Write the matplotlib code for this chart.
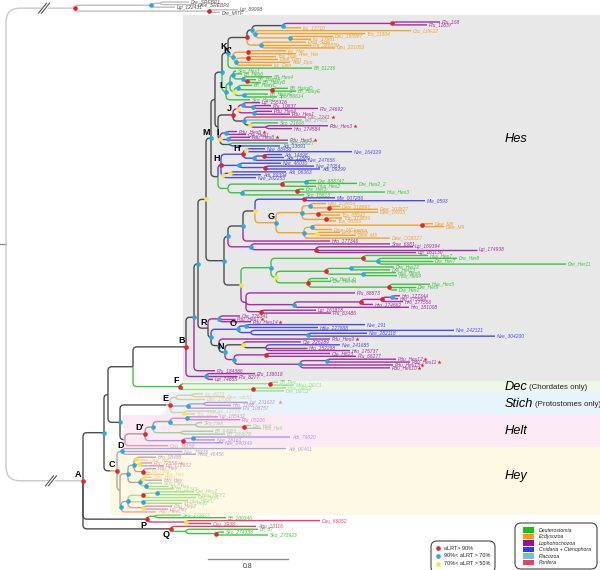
import matplotlib
matplotlib.use("Agg")
import matplotlib.pyplot as plt
from matplotlib.path import Path
from matplotlib.patches import PathPatch, Rectangle, FancyBboxPatch

# ------------------------------------------------------------------ data
# Newick-like clades.  Leaf: Name|Taxon:depth   (depth = distance from root, subst./site)
# Internal: (...)support#Clade:depth   support r: aLRT>90, b: 70-90, y: 50-70, -: none
# a trailing * on a leaf name marks the red star shown after its label
OUTGROUP = ("(((Dre_SREBP1|O:1.83,Dme_SREBP2|O:1.90)-:1.54,Lgi_122431|O:1.69)b:1.45,"
            "(Lgi_89998|O:2.32,Dre_MITF|O:2.14)r:2.03)r:0.69")

K_UP = ("((((Pfu_168|L:4.34,Pfu_11637|L:4.21)r:3.86,Isc_13710|E:2.95)b:2.77,"
        "(Csc_LIN-22|E:4.05,Tca_11304|E:3.59,(Dpu_155987|E:3.27,Isc_17981|E:3.05)b:2.84)b:2.49)b:2.46,"
        "(Dme_Side|E:3.00,Pfa_386830|E:3.05,Dpu_221053|E:3.29)b:2.55)r:2.41")
K_PRIME = ("((Isc_Her|E:2.80,Ame_Her|E:2.90)r:2.42,((Tca_Dpn|E:2.70,Dme_Dpn|E:2.72)r:2.42,"
           "Aae_Dpn|E:2.84,Isc_Dpn|E:2.66)b:2.30)b#K':2.27")
K = f"({K_UP},{K_PRIME},Bfl_01236|D:3.06)b#K:2.22"
L = ("(((Sko_Hes1|D:2.30,Bfl_Hes6|D:2.36,(Bfl_Hes4|D:2.66,(Bfl_HairyA|D:2.50,Bfl_HairyB|D:2.55)r:2.41)b:2.37)b:2.27,"
     "((Bfl_HairyC|D:2.46,(Bfl_HairyD|D:2.82,Bfl_HairyE|D:2.90)r:2.66)b:2.32,"
     "(Bfl_HairyF|D:2.62,Spu_86614|D:2.71)b:2.38)y:2.28)b:2.24,Sko_Hes4|D:2.44)b#L:2.20")
J = ("(((Lgi_155316|L:2.54,(Pfu_10837|L:2.65,Pfu_24692|L:3.12)b:2.47)b:2.37,"
     "(Pdu_Hes4|L:2.66,Pdu_Hes1|L:2.84)b:2.48)y:2.32,"
     "(Osc_2241*|S:3.00,Tad_27431|P:2.96,(Sko_21606|D:2.72,(Pdu_Hes3*|L:3.22,Hro_174584|L:2.86)-:2.60)y:2.44)b:2.38)r#J:2.27")
I = ("((Pdu_Hes6*|L:2.31,Cte_Hes1|L:2.40)b:2.20,(Pdu_Hes8*|L:2.44,Pdu_Hes5*|L:2.82)b:2.22,"
     "(Sko_08627|D:2.82,Adi_13091|C:2.74)-:2.24)y#I:2.14")
MK = f"(({K},{L})b:2.16,({J},{I})-:2.12)-:2.09"
H = ("(((Nve_88450|C:2.59,Nve_164329|C:3.46)y:2.40,((Adi_14698|C:2.76,Adi_12889|C:2.78)r:2.58,Nve_247656|C:3.00)b:2.48)r#H':2.37,"
     "(Nve_46030|C:2.75,(Nve_27054|C:3.08,Adi_09299|C:3.14)r:2.59)b:2.33,"
     "((Adi_06363|C:2.80,Adi_89394|C:2.55)y:2.24,Nve_202253|C:2.50)y:2.17)r#H:2.15")
G2 = ("(((Dre_888747|D:3.10,Dre_Hes2_2|D:3.51)b:3.00,Hsa_Hes2|D:3.10)r:2.76,"
      "((Dre_Her3|D:2.98,Hsa_Hes3|D:3.79)r:2.91,Sko_15813|D:2.98)b:2.36)-:2.22")
M = f"({MK},({H},{G2})-:2.12)b#M:2.05"

MLE = "(Mle_007286|C:3.29,Mle_0593|C:4.19)r:2.98"
G = ("(((Dpu_379859|E:3.20,(Dwe_218897|E:3.34,Dwe_203877|E:3.72)r:3.23)b:3.04,"
     "(Dwe_16915|E:3.72,Tca_05541|E:3.34)r:3.12,(Tca_373839|E:3.36,Tca_00350|E:3.30)r:3.20)b:2.96,"
     "(((Dwe_M8|E:4.27,Dwe_M9|E:4.38)r:4.16,Dme_MGamma|E:3.26)b:3.06,"
     "(Dme_MBeta|E:3.34,Dme_M3|E:3.50)y:3.11,Dwe_CG8327|E:3.84)b:2.98)b#G:2.70")
MIDUP = (f"((({MLE},{G})y:2.49,Hro_177346|L:3.24)b:2.37,"
         "(Sme_6681|L:3.84,(Lgi_169394|L:4.07,Lgi_174938|L:4.71,Lgi_161130|L:4.10)r:3.10)b:2.45)b:2.22")
GR = ("((Hsa_Hes7|D:4.22,(Dre_Her8|D:4.51,Dre_Her7|D:4.27,Dre_Her11|D:5.60)b:3.72)r:3.57,"
      "(((Dre_Her12|D:3.88,Dre_Her13|D:3.84)b:3.45,(Hsa_Hes6|D:3.90,Hsa_Hes4|D:3.91)b:3.57)r:3.20,"
      "(Dre_Her4_b|D:3.22,Dre_Her4a|D:3.25,(Hsa_Hes5|D:4.24,Dre_Her9|D:4.10,Dre_Her1|D:3.91)r:3.83)r:3.02)y:2.70)b:2.65")
HROG = ("((((Hro_177344|L:3.94,Hro_175564|L:3.92)b:3.86,Hro_177556|L:3.97)r:3.76,"
        "Hro_174662|L:3.67)r:3.55,Hro_181008|L:4.03)b:2.88")
MIDLOW = f"({GR},(Pfu_88873|L:3.49,{HROG},(Lgi_161818|L:3.10,Pfu_83486|L:3.25)r:2.55)-:2.40)y:2.35"
MID = f"({MIDUP},{MIDLOW})b:2.18"

R1 = "(Cte_226341|L:2.34,Pdu_Hes7*|L:2.29,Pdu_Hes14*|L:2.45)b:2.13"
O = ("((Nve_191|C:3.59,Hdw_227888|C:3.12)b:2.40,"
     "(Nve_242121|C:4.48,(Nve_282118|C:3.61,Nve_304200|C:4.89)b:3.02)-:2.45)b#O:2.32")
N = ("((Cte_226289|L:2.95,(Nve_241655|C:3.34,Hro_152288|L:3.01,Hro_175737|L:3.44)-:2.60)y:2.37,"
     "((Cte_H823|L:3.24,Pfu_66277|L:3.50)r:2.60,((Pdu_Hes12*|L:3.90,Pdu_Hes11*|L:4.04)b:3.21,"
     "Pdu_Hes13*|L:3.87,Pdu_Hes10*|L:3.84)b:2.94)b:2.28)b#N:2.19")
R = f"({R1},({O},(Pdu_Hes9*|L:3.24,{N})b:2.13)b:2.05)-#R:2.02"
HES = (f"((({M},{MID})y:2.00,{R})b:1.92,Pfu_184386|L:2.09)b:1.88,"
       "(Pfu_138018|L:2.49,Pfu_8277|L:2.31,Lgi_74855|L:2.07)b:2.00)r#B:1.80")
HES = "(" + HES

DEC = "((Bfl_Dec|D:2.72,Mmu_DEC1|D:2.88)r:2.64,(Hsa_DEC2|D:2.80,Dre_DEC2|D:2.78)r:2.47)r#F:1.74"
STICH = ("(((Isc_4373|E:1.97,Dme_stich1|E:2.19)-:1.86,Dpu_17086|E:1.99)-:1.70,"
         "((Lgi_231622*|L:2.42,Hro_1782|L:2.25)-:1.98,Pfu_108757|L:2.35)b:1.82,"
         "(Isc_12779|E:2.10,Tca_12779|E:1.89)y:1.78)r#E:1.64")
HELT = ("(((((Lgi_165432|L:2.12,Pfu_05206|L:2.34)b:1.81,(Sko_Helt|D:1.96,(Dre_Helt|D:2.45,Hsa_Helt|D:2.55)r:2.38)-:1.90)b:1.64,"
        "(Bfl_64982|D:2.07,Bfl_109678|D:2.19)-:1.75)b:1.47,"
        "((Adi_76820|C:2.84,Nve_18161|C:2.09)b:1.87,Nve_240349|C:2.17)r:1.77)r#D':1.39,Ocu_16158|S:1.62)-#D:1.19")
HEY = ("((Adi_00461|C:2.80,Nve_75836|C:1.76,Hma_46456|C:1.90)b:1.16,"
       "((((Hro_08488|L:1.50,Dme_Hey|E:1.42)y:1.30,(Pfu_72858*|L:1.46,Lgi_172602|L:1.58)y:1.33,"
       "(Pdu_Hey|L:1.50,Isc_Hey|E:1.44,Tca_Hey|E:1.58)r:1.37)b:1.28,"
       "((Dpu_Hey|E:1.46,Hro_Hey|L:1.56)y:1.37,(Sko_Hey|D:1.56,Spu_Hey|D:1.62,Bfl_12343|D:1.68)b:1.40)b:1.34)b:1.22,"
       "((((Dre_Hey2|D:1.88,Hsa_HEY1|D:1.94)b:1.51,Dre_HeyL|D:1.90)r:1.37,(Hsa_HEYL|D:1.82,Mmu_Hey2|D:1.76)b:1.37,"
       "(Pdu_Hey2|L:1.66,Lgi_Hey|L:1.62)y:1.37)b:1.22,Aqu_HeyL|S:1.50)b:1.15)-:1.14)r#C:1.11")
P = "((Sko_273877|D:1.75,Bfl_100346|D:2.20)-:1.49,(Osu_66052|S:3.14,Osu_3938|S:2.05)y:1.80)r#P:1.41"
Q = "(Aqu_13116|S:2.50,(Bfl_87|D:2.52,(Sko_274338|D:2.18,Sko_273923|D:2.62)r:2.10)-:1.80)r#Q:1.65"

MAIN = f"((({HES},{DEC})-:1.27,({STICH},{HELT})b:1.14)-:1.02,{HEY})b:0.98"
A = f"({MAIN},{P},{Q})r#A:0.77"
TREE = f"({OUTGROUP},{A})-:0.00"

TAXA = ["D", "E", "L", "C", "P", "S"]
TAXON_NAMES = ["Deuterostomia", "Ecdysozoa", "Lophotrochozoa", "Cnidaria + Ctenophora", "Placozoa", "Porifera"]
SUPPORT_KEYS = ["r", "b", "y"]
SUPPORT_TEXT = ["aLRT> 90%", "90%< aLRT > 70%", "70%< aLRT > 50%"]
BANDS = [("B", "Hes", ""), ("F", "Dec", "(Chordates only)"), ("E", "Stich", "(Protostomes only)"),
         ("D", "Helt", ""), ("C", "Hey", "")]
SCALE_LEN = 0.8

# ------------------------------------------------------------------ style
TAXON_COLORS = {"D": "#3cc53c", "E": "#f5a22a", "L": "#a42ea4", "C": "#4a4ae6",
                "P": "#5ec4c8", "S": "#ee3c64", "O": "#bdbdbd"}
LEGEND_COLORS = {"D": "#12c412", "E": "#ff9a00", "L": "#9a0f9a", "C": "#3636f5",
                 "P": "#66c9cc", "S": "#f23a62"}
SUP_COLORS = {"r": "#e5232b", "b": "#2aa8e0", "y": "#f9e545"}
BACKBONE = "#4d4d4d"
BAND_STYLE = {"Hes": ("#e8e8e8", 1.77, 0.0, False), "Dec": ("#e2f2d8", 1.77, 0.55, True),
              "Stich": ("#d4ecf8", 1.60, 0.55, True), "Helt": ("#f8d9ea", 1.17, 0.55, True),
              "Hey": ("#fcf5d0", 1.04, 0.55, True)}
FONT = "Liberation Sans"
PXU = 100.0          # pixels per unit
X0 = 6.0             # pixel position of the root


def parse(s):
    i = 0

    def node():
        nonlocal i
        n = {"kids": []}
        if s[i] == "(":
            i += 1
            n["kids"].append(node())
            while s[i] == ",":
                i += 1
                n["kids"].append(node())
            i += 1
        j = i
        while s[i] != ":":
            i += 1
        lab = s[j:i]
        i += 1
        j = i
        while i < len(s) and s[i] not in ",)":
            i += 1
        n["depth"] = float(s[j:i])
        if n["kids"]:
            sup, _, clade = lab.partition("#")
            n["sup"], n["clade"] = sup, clade
        else:
            name, _, tax = lab.partition("|")
            n["star"] = name.endswith("*")
            n["name"], n["taxon"] = name.rstrip("*"), tax
        return n
    return node()


root = parse(TREE)


def leaves_of(n):
    if not n["kids"]:
        return [n]
    out = []
    for k in n["kids"]:
        out += leaves_of(k)
    return out


og_leaves = leaves_of(root["kids"][0])
main_leaves = leaves_of(root["kids"][1])
for i, lf in enumerate(og_leaves):
    lf["y"] = 2.0 + i * 2.6
Y_TOP, Y_BOT = 22.0, 535.0
SP = (Y_BOT - Y_TOP) / (len(main_leaves) - 1)
for i, lf in enumerate(main_leaves):
    lf["y"] = Y_TOP + i * SP


def set_y(n):
    for k in n["kids"]:
        set_y(k)
    if n["kids"]:
        n["y"] = (n["kids"][0]["y"] + n["kids"][-1]["y"]) / 2


set_y(root)


def taxa(n):
    if "tx" not in n:
        n["tx"] = {n["taxon"]} if not n["kids"] else set().union(*[taxa(k) for k in n["kids"]])
    return n["tx"]


def find(n, clade):
    if n["kids"]:
        if n.get("clade") == clade:
            return n
        for k in n["kids"]:
            r = find(k, clade)
            if r:
                return r
    return None


fig = plt.figure(figsize=(6.0, 5.7), dpi=100)
ax = fig.add_axes([0, 0, 1, 1])
ax.set_xlim(-X0 / PXU, (600 - X0) / PXU)
ax.set_ylim(570, 0)
ax.axis("off")


def elbow(xp, yp, xc, yc, color, r=4.0, lw=1.0, z=2):
    dy = yc - yp
    if abs(dy) < 0.05:
        verts, codes = [(xp, yp), (xc, yc)], [Path.MOVETO, Path.LINETO]
    else:
        sg = 1 if dy > 0 else -1
        ry = min(r, abs(dy))
        rx = min(r / PXU, max(xc - xp, 0.0))
        verts = [(xp, yp), (xp, yc - sg * ry), (xp, yc), (xp + rx, yc), (xc, yc)]
        codes = [Path.MOVETO, Path.LINETO, Path.CURVE3, Path.CURVE3, Path.LINETO]
    ax.add_patch(PathPatch(Path(verts, codes), fill=False, edgecolor=color, lw=lw,
                           capstyle="butt", joinstyle="round", zorder=z))


def draw(n, gray=False):
    for k in n["kids"]:
        tx = taxa(k)
        if gray:
            col = TAXON_COLORS["O"]
        else:
            col = TAXON_COLORS[next(iter(tx))] if len(tx) == 1 else BACKBONE
        elbow(n["depth"], n["y"], k["depth"], k["y"], col)
        draw(k, gray)


# root
ogn, an = root["kids"]
ax.plot([-X0 / PXU, 0], [root["y"], root["y"]], color="#8c8c8c", lw=1.0, zorder=2)
elbow(0, root["y"], ogn["depth"], ogn["y"], "#c9c9c9", r=14)
elbow(0, root["y"], an["depth"], an["y"], "#c9c9c9", r=14)
draw(ogn, gray=True)
draw(an)

# broken-branch marks
for xb, yb in [(0.38, ogn["y"]), (0.45, an["y"])]:
    ax.plot([xb - 0.03, xb + 0.03], [yb, yb], color="white", lw=2.5, zorder=3, solid_capstyle="butt")
    for off in (-0.015, 0.015):
        ax.plot([xb + off - 0.04, xb + off + 0.04], [yb + 5, yb - 5], color="#555555", lw=0.8, zorder=3)

# leaf labels
for lf in og_leaves + main_leaves:
    col = "#555555" if lf["taxon"] == "O" else TAXON_COLORS[lf["taxon"]]
    ax.text(lf["depth"] + 0.02, lf["y"], lf["name"], fontsize=3.5, color=col, va="center", ha="left",
            style="italic", family=FONT, zorder=3)
    if lf["star"]:
        ax.plot(lf["depth"] + 0.05 + len(lf["name"]) * 0.027, lf["y"], marker="*", ms=3.2,
                color=SUP_COLORS["r"], mew=0, zorder=3)

# support dots and clade letters
BELOW = {"D", "P", "Q"}


def dots(n):
    if not n["kids"]:
        return
    if n["sup"] in SUP_COLORS:
        ax.scatter([n["depth"]], [n["y"]], s=11, color=SUP_COLORS[n["sup"]], lw=0, zorder=6)
    if n["clade"]:
        if n["clade"] in BELOW:
            ax.text(n["depth"] - 0.01, n["y"] + 1.5, n["clade"], fontsize=6.5, weight="bold",
                    family=FONT, ha="right", va="top", zorder=7)
        else:
            ax.text(n["depth"] - 0.015, n["y"] - 1.5, n["clade"], fontsize=6.5, weight="bold",
                    family=FONT, ha="right", va="bottom", zorder=7)
    for k in n["kids"]:
        dots(k)


dots(root)

# bands
band_nodes = [find(root, c) for c, _, _ in BANDS]
ext = [(min(l["y"] for l in leaves_of(b)), max(l["y"] for l in leaves_of(b))) for b in band_nodes]
bounds = [15.0]
for i in range(len(ext) - 1):
    bounds.append((ext[i][1] + ext[i + 1][0]) / 2)
bounds.append(ext[-1][1] + SP / 2 + 1.5)
lax = fig.add_axes([0, 0, 1, 1], zorder=5)
lax.set_xlim(0, 600)
lax.set_ylim(570, 0)
lax.axis("off")
lax.patch.set_alpha(0)
renderer = fig.canvas.get_renderer()
for i, (_, big, small) in enumerate(BANDS):
    col, x0, alpha, over = BAND_STYLE[big]
    top, bot = bounds[i], bounds[i + 1]
    if over:
        ax.add_patch(Rectangle((x0, top), 7, bot - top, facecolor=col, alpha=alpha, lw=0, zorder=4))
    else:
        ax.add_patch(Rectangle((x0, top), 7, bot - top, facecolor=col, lw=0, zorder=0))
    yt = 139 if big == "Hes" else (top + 0.42 * (bot - top) if big == "Hey" else (top + bot) / 2)
    t = lax.text(505, yt, big, fontsize=9.2, style="italic", family=FONT, va="center", ha="left")
    if small:
        bb = t.get_window_extent(renderer=renderer)
        lax.text(505 + bb.width + 1.5, yt + 0.8, small, fontsize=5.7, family=FONT, va="center", ha="left",
                 color="#222222")

# scale bar
sx = 2.02
ax.plot([sx, sx + SCALE_LEN], [559, 559], color="#8a8a8a", lw=1.0)
ax.text(sx + SCALE_LEN / 2, 567, f"{SCALE_LEN}", fontsize=5, family=FONT, ha="center", va="center", color="#333")

# support legend
lax.add_patch(FancyBboxPatch((431, 541), 64, 32, boxstyle="round,pad=0,rounding_size=6",
                             fc="white", ec="#444444", lw=0.8))
for i, (k, t) in enumerate(zip(SUPPORT_KEYS, SUPPORT_TEXT)):
    yy = 548 + i * 7.8
    lax.scatter([438], [yy], s=11, color=SUP_COLORS[k], lw=0)
    lax.text(444, yy, t, fontsize=4.0, family=FONT, va="center", ha="left", color="#222")

# taxon legend
lax.add_patch(FancyBboxPatch((515, 523), 82, 46, boxstyle="round,pad=0,rounding_size=6",
                             fc="white", ec="#444444", lw=0.8))
for i, (k, t) in enumerate(zip(TAXA, TAXON_NAMES)):
    yy = 530 + i * 6.5
    lax.add_patch(Rectangle((523, yy - 2.6), 11, 5.2, fc=LEGEND_COLORS[k], lw=0))
    lax.text(539, yy, t, fontsize=3.7, family=FONT, style="italic", va="center", ha="left", color="#222")

fig.savefig("out.png", dpi=100)
